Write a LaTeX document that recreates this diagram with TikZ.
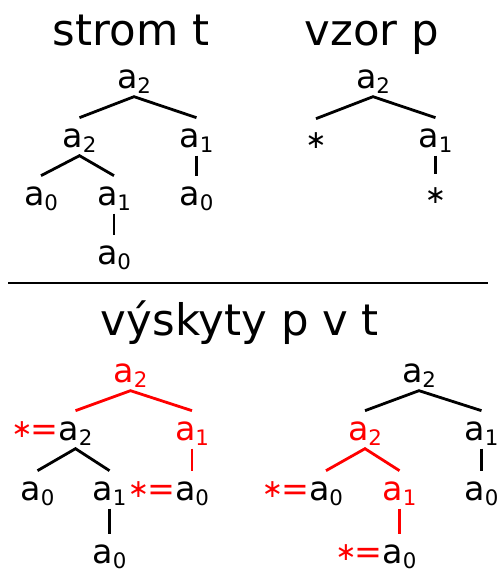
\documentclass[tikz,border=0pt]{standalone}
\usepackage{fontspec}
\setmainfont{DejaVu Sans}
\newcommand\sbs[1]{\raisebox{-4pt}{\fontsize{16pt}{16pt}\selectfont #1}}
\newcommand\an[1]{a\sbs{#1}}
\newcommand\st{\raisebox{-0.5pt}{\fontsize{19pt}{19pt}\selectfont ∗}}
\newcommand\sq{\raisebox{1.8pt}{\fontsize{19pt}{19pt}\selectfont ∗}\hspace{-1.5pt}=}
\begin{document}
\begin{tikzpicture}[x=0.75pt,y=-0.75pt,
  lab/.style={inner sep=0pt,outer sep=0pt,anchor=base,font=\fontsize{25pt}{28pt}\selectfont,text height=22pt,text depth=6.5pt},
  pre/.style={inner sep=0pt,outer sep=0pt,anchor=base east,font=\fontsize{25pt}{28pt}\selectfont,red},
  ttl/.style={inner sep=0pt,anchor=base,font=\fontsize{32.6pt}{36pt}\selectfont},
  edge/.style={line width=2.1pt},
  hl/.style={red}]
\useasboundingbox (0,0) rectangle (499,569);
% titles
\node[ttl] (T1) at (131,45) {strom t};
\node[ttl] (T2) at (372,45) {vzor p};
\node[ttl] (T3) at (240,335) {výskyty p v t};
\coordinate (hL) at (8,283);
\coordinate (hR) at (488,283);
\draw[line width=2.2pt] (hL) -- (hR);
% tree t
\node[lab] (t1) at (134,88) {\an{2}};
\node[lab] (t2) at (79.5,147) {\an{2}};
\node[lab] (t3) at (196.5,147) {\an{1}};
\node[lab] (t4) at (41,205) {\an{0}};
\node[lab] (t5) at (114,205) {\an{1}};
\node[lab] (t6) at (196.5,205) {\an{0}};
\node[lab] (t7) at (114,264) {\an{0}};
\draw[edge] (t2.north) -- (t1.south) -- (t3.north);
\draw[edge] (t4.north) -- (t2.south) -- (t5.north);
\draw[edge] (t3.south) -- (t6.north);
\draw[edge] (t5.south) -- (t7.north);
% pattern p
\node[lab] (p1) at (373,88) {\an{2}};
\node[lab] (p2) at (316,148) {\st};
\node[lab] (p3) at (435.5,147) {\an{1}};
\node[lab] (p4) at (435.5,203) {\st};
\draw[edge] (p2.north) -- (p1.south) -- (p3.north);
\draw[edge] (p3.south) -- (p4.north);
% occurrence 1
\node[lab,hl] (l1) at (130.5,382) {\an{2}};
\node[lab] (l2) at (75.5,440) {\an{2}};
\node[pre] (l2s) at (l2.base west) {\sq};
\node[lab,hl] (l3) at (192,440) {\an{1}};
\node[lab] (l4) at (37.5,500) {\an{0}};
\node[lab] (l5) at (109.5,500) {\an{1}};
\node[lab] (l6) at (192,500) {\an{0}};
\node[pre] (l6s) at (l6.base west) {\sq};
\node[lab] (l7) at (109.5,563) {\an{0}};
\draw[edge,hl] (l2.north) -- (l1.south) -- (l3.north);
\draw[edge,hl] (l3.south) -- (l6.north);
\draw[edge] (l4.north) -- (l2.south) -- (l5.north);
\draw[edge] (l5.south) -- (l7.north);
% occurrence 2
\node[lab] (r1) at (419,382) {\an{2}};
\node[lab,hl] (r2) at (365,440) {\an{2}};
\node[lab] (r3) at (481.5,440) {\an{1}};
\node[lab] (r4) at (326,500) {\an{0}};
\node[pre] (r4s) at (r4.base west) {\sq};
\node[lab,hl] (r5) at (399.5,500) {\an{1}};
\node[lab] (r6) at (481.5,500) {\an{0}};
\node[lab] (r7) at (399.5,563) {\an{0}};
\node[pre] (r7s) at (r7.base west) {\sq};
\draw[edge] (r2.north) -- (r1.south) -- (r3.north);
\draw[edge] (r3.south) -- (r6.north);
\draw[edge,hl] (r4.north) -- (r2.south) -- (r5.north);
\draw[edge,hl] (r5.south) -- (r7.north);
\end{tikzpicture}
\end{document}
